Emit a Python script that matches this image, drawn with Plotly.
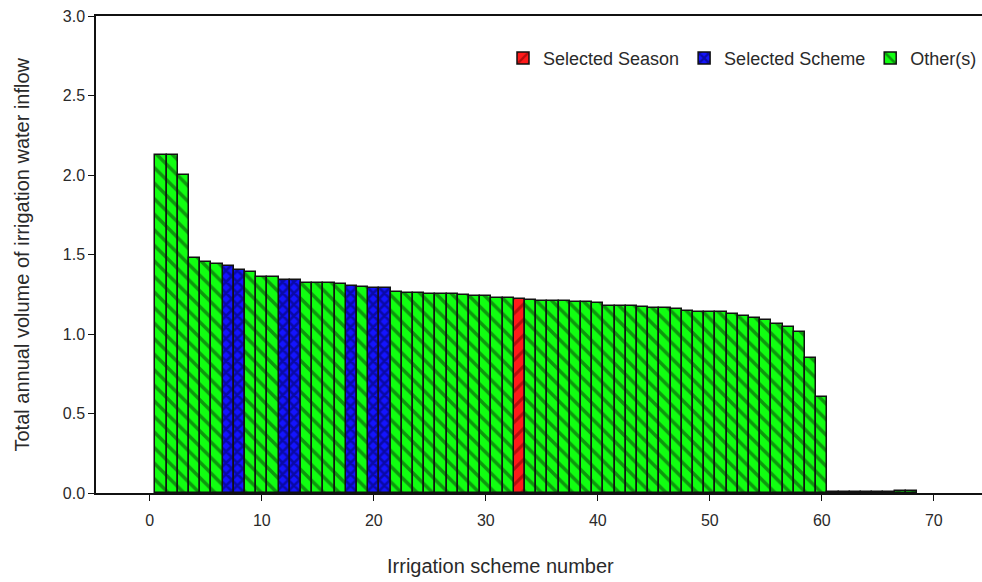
import plotly.graph_objects as go

# Data
scheme_numbers = list(range(1, 69))
inflow_volume = [
    2.124, 2.124, 2.003, 1.477, 1.453, 1.440, 1.428, 1.404, 1.387, 1.361,
    1.360, 1.341, 1.340, 1.323, 1.322, 1.322, 1.312, 1.301, 1.297, 1.287,
    1.287, 1.263, 1.261, 1.261, 1.249, 1.249, 1.249, 1.243, 1.242, 1.242,
    1.224, 1.224, 1.220, 1.213, 1.209, 1.209, 1.207, 1.199, 1.199, 1.192,
    1.177, 1.177, 1.175, 1.171, 1.161, 1.161, 1.157, 1.146, 1.137, 1.136,
    1.136, 1.125, 1.113, 1.100, 1.087, 1.060, 1.045, 1.013, 0.852, 0.603,
    0.006, 0.006, 0.006, 0.006, 0.006, 0.006, 0.012, 0.012,
]
selected_season = [33]
selected_scheme = [7, 8, 12, 13, 18, 20, 21]

series_names = ["Selected Season", "Selected Scheme", "Other(s)"]
x_ticks = [0, 10, 20, 30, 40, 50, 60, 70]
y_ticks = [0.0, 0.5, 1.0, 1.5, 2.0, 2.5, 3.0]


def category(n):
    if n in selected_season:
        return "Selected Season"
    if n in selected_scheme:
        return "Selected Scheme"
    return "Other(s)"


styles = {
    "Selected Season": dict(color="#ff1a1a", fg="#6a0000", shape="/", size=11, sol=0.28),
    "Selected Scheme": dict(color="#1414ff", fg="#000050", shape="x", size=8, sol=0.55),
    "Other(s)": dict(color="#11ff11", fg="#0a300a", shape="\\", size=11, sol=0.32),
}

fig = go.Figure()
for name in series_names:
    xs = [n for n in scheme_numbers if category(n) == name]
    ys = [v for n, v in zip(scheme_numbers, inflow_volume) if category(n) == name]
    st = styles[name]
    fig.add_trace(go.Bar(
        x=xs, y=ys, name=name, width=1.0,
        marker=dict(
            color=st["color"],
            line=dict(color="#111111", width=1.5),
            pattern=dict(shape=st["shape"], fgcolor=st["fg"], size=st["size"],
                         solidity=st["sol"], fillmode="overlay"),
        ),
    ))

font_family = "Liberation Sans, Arial, sans-serif"
text_color = "#2a2a2a"

fig.update_layout(
    width=982, height=582,
    margin=dict(l=96, r=0, t=16, b=89),
    paper_bgcolor="white", plot_bgcolor="white",
    barmode="overlay", bargap=0,
    font=dict(family=font_family, size=16, color=text_color),
    showlegend=True,
    legend=dict(
        orientation="h", x=1.0, xanchor="right", y=0.95, yanchor="top",
        bgcolor="rgba(0,0,0,0)", font=dict(size=18, color=text_color),
        traceorder="normal",
    ),
    xaxis=dict(
        range=[-4.8, 74.3], tickvals=x_ticks, ticktext=[str(t) for t in x_ticks],
        showline=True, linecolor="#111111", linewidth=1.5, mirror=True,
        ticks="outside", ticklen=6, tickcolor="#111111",
        showgrid=False, zeroline=False,
        tickfont=dict(size=16), ticklabelstandoff=6,
    ),
    yaxis=dict(
        range=[0, 3.0], tickvals=y_ticks, tickformat=".1f",
        showline=True, linecolor="#111111", linewidth=1.5, mirror=False,
        ticks="outside", ticklen=6, tickcolor="#111111",
        showgrid=False, zeroline=False,
        tickfont=dict(size=16),
    ),
    annotations=[
        dict(text="Irrigation scheme number", xref="paper", yref="paper",
             x=(500 - 96) / 886, y=-(566 - 493) / 477, xanchor="center",
             yanchor="middle", showarrow=False,
             font=dict(size=20, color=text_color)),
        dict(text="Total annual volume of irrigation water inflow",
             xref="paper", yref="paper", x=-(96 - 21) / 886, y=0.5,
             xanchor="center", yanchor="middle", textangle=-90,
             showarrow=False, font=dict(size=20, color=text_color)),
    ],
)

fig.write_html(
    "out.html",
    config={"displayModeBar": False},
    post_script="document.body.style.margin='0';document.body.style.overflow='hidden';",
)
